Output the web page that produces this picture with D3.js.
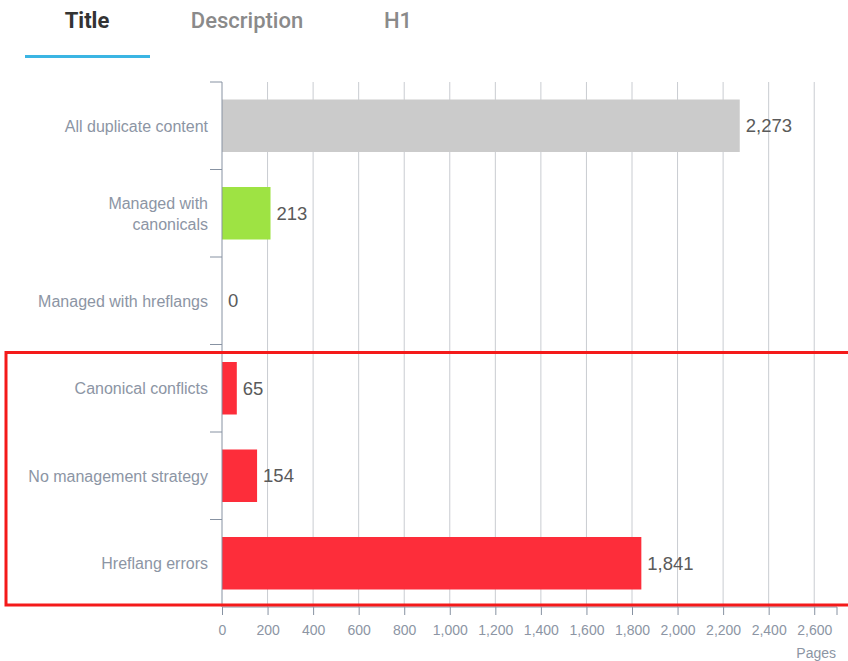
<!DOCTYPE html>
<html>
<head>
<meta charset="utf-8">
<script src="https://cdn.jsdelivr.net/npm/d3@7"></script>
<style>
  body { margin: 0; background: #fff; }
  #chart svg { display: block; }
</style>
</head>
<body>
<div id="chart"></div>
<script>
// Duplicate content chart

const tabs = ["Title", "Description", "H1"];
const categories = [
    "All duplicate content",
    "Managed with canonicals",
    "Managed with hreflangs",
    "Canonical conflicts",
    "No management strategy",
    "Hreflang errors"
];
const categoryLines = [
    ["All duplicate content"],
    ["Managed with", "canonicals"],
    ["Managed with hreflangs"],
    ["Canonical conflicts"],
    ["No management strategy"],
    ["Hreflang errors"]
];
const pages = [2273, 213, 0, 65, 154, 1841];
const barColors = ["#cbcbcb", "#9ee343", "#fd2d3a", "#fd2d3a", "#fd2d3a", "#fd2d3a"];
const xTicks = d3.range(0, 2601, 200);
const xLabel = "Pages";

function drawChart() {
    const W = 848, H = 661;
    const margin = {top: 82, right: 11, bottom: 54, left: 222};
    const width = W - margin.left - margin.right,
          height = H - margin.top - margin.bottom;

    const root = d3.select("#chart").append("svg")
        .attr("width", W)
        .attr("height", H);

    // Tabs
    const tabX = [87, 247, 398];
    root.selectAll(".tab")
        .data(tabs)
        .enter()
        .append("text")
        .attr("x", (d, i) => tabX[i])
        .attr("y", 28)
        .attr("text-anchor", "middle")
        .style("font-family", "Roboto, sans-serif")
        .style("font-size", "22px")
        .style("font-weight", (d, i) => i === 0 ? "bold" : "500")
        .style("fill", (d, i) => i === 0 ? "#333" : "#8a8a8a")
        .text(d => d);

    root.append("rect")
        .attr("x", 25).attr("y", 55)
        .attr("width", 125).attr("height", 3)
        .attr("fill", "#3bb5e3");

    const svg = root.append("g")
        .attr("transform", `translate(${margin.left},${margin.top})`);

    const x = d3.scaleLinear()
        .domain([0, 2700])
        .range([0, width]);

    const y = d3.scaleBand()
        .domain(categories)
        .range([0, height])
        .paddingInner(0.4)
        .paddingOuter(0.2);

    // Vertical grid
    svg.selectAll(".grid")
        .data(xTicks.slice(1))
        .enter()
        .append("line")
        .attr("x1", d => x(d)).attr("x2", d => x(d))
        .attr("y1", 0).attr("y2", height)
        .attr("stroke", "#c9ccd1")
        .attr("stroke-width", 1);

    // Bars
    svg.selectAll(".bar")
        .data(categories)
        .enter()
        .append("rect")
        .attr("x", 0)
        .attr("y", d => y(d))
        .attr("width", (d, i) => x(pages[i]))
        .attr("height", y.bandwidth())
        .attr("fill", (d, i) => barColors[i]);

    // Value labels
    svg.selectAll(".val")
        .data(categories)
        .enter()
        .append("text")
        .attr("x", (d, i) => x(pages[i]) + 6)
        .attr("y", d => y(d) + y.bandwidth() / 2)
        .attr("dy", "0.36em")
        .style("font-family", "'Liberation Sans', Arial, sans-serif")
        .style("font-size", "18.5px")
        .style("fill", "#5a5a5a")
        .text((d, i) => d3.format(",")(pages[i]));

    // Y axis
    const step = y.step();
    const yAxis = svg.append("g");
    yAxis.append("line")
        .attr("x1", 0).attr("x2", 0)
        .attr("y1", 0).attr("y2", height)
        .attr("stroke", "#8792a2");
    yAxis.selectAll(".ytick")
        .data(d3.range(categories.length))
        .enter()
        .append("line")
        .attr("x1", -12).attr("x2", 0)
        .attr("y1", i => i * step)
        .attr("y2", i => i * step)
        .attr("stroke", "#8792a2");

    const ylab = yAxis.selectAll(".ylab")
        .data(categories)
        .enter()
        .append("text")
        .attr("text-anchor", "end")
        .attr("y", d => y(d) + y.bandwidth() / 2)
        .style("font-family", "'Liberation Sans', Arial, sans-serif")
        .style("font-size", "16px")
        .style("fill", "#8c95a4");
    ylab.each(function(d, i) {
        const lines = categoryLines[i];
        const t = d3.select(this);
        lines.forEach((ln, k) => {
            t.append("tspan")
                .attr("x", -14)
                .attr("dy", k === 0 ? `${0.36 - (lines.length - 1) * 0.6}em` : "1.3em")
                .text(ln);
        });
    });

    // X axis
    const xAxis = svg.append("g")
        .attr("transform", `translate(0,${height})`)
        .call(d3.axisBottom(x).tickValues(xTicks).tickFormat(d3.format(",")).tickSize(8).tickPadding(10));
    xAxis.select(".domain").attr("stroke", "#8792a2")
        .attr("d", `M0.5,0H${width}V8`);
    xAxis.selectAll(".tick line").attr("stroke", "#8792a2");
    xAxis.selectAll("text")
        .style("font-family", "'Liberation Sans', Arial, sans-serif")
        .style("font-size", "14px")
        .style("fill", "#8c95a4");

    svg.append("text")
        .attr("x", width - 1)
        .attr("y", height + 51)
        .attr("text-anchor", "end")
        .style("font-family", "'Liberation Sans', Arial, sans-serif")
        .style("font-size", "14px")
        .style("fill", "#8c95a4")
        .text(xLabel);

    // Highlight box round the problem rows
    const boxTop = 3 * step + 8;
    const boxBottom = height - 2;
    svg.append("rect")
        .attr("x", -margin.left + 6)
        .attr("y", boxTop)
        .attr("width", W)
        .attr("height", boxBottom - boxTop)
        .attr("fill", "none")
        .attr("stroke", "#f41a1a")
        .attr("stroke-width", 3);
}

drawChart();
</script>
</body>
</html>
